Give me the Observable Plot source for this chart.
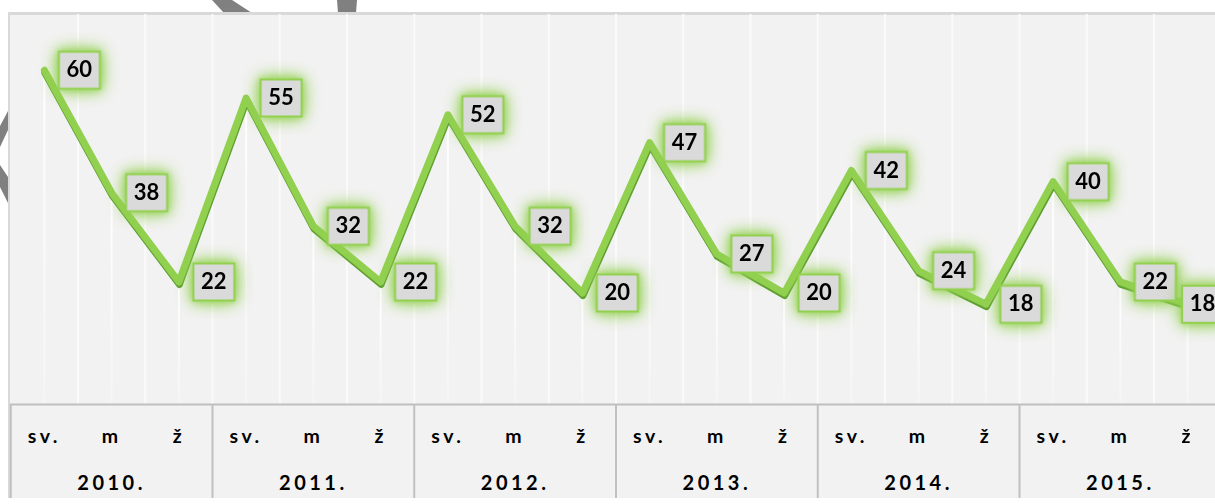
<!DOCTYPE html>
<html>
<head>
<meta charset="utf-8">
<script src="https://cdn.jsdelivr.net/npm/d3@7"></script>
<script src="https://cdn.jsdelivr.net/npm/@observablehq/plot@0.6"></script>
<style>
  html, body { margin: 0; padding: 0; background: #ffffff; overflow: hidden; }
  #wrap { position: relative; width: 1215px; height: 504px; overflow: hidden; }
  #deco { position: absolute; left: 0; top: 0; }
  #panel { position: absolute; left: 8px; top: 12px; width: 1215px; height: 486px;
           background: #f2f2f2; border-top: 3px solid #d9d9d9; border-left: 2px solid #d9d9d9; box-sizing: border-box; }
  #chart { position: absolute; left: 0; top: 0; }
  g[aria-label="x-axis tick label"] text { letter-spacing: 3.5px; }
</style>
</head>
<body>
<div id="wrap">
  <svg id="deco" width="1215" height="504">
    <polygon points="212,0 232,0 252,13 224,13" fill="#808080"/>
    <polygon points="337,0 357,0 356,13 338,13" fill="#808080"/>
    <polygon points="8,111 8,130 0,147 0,126" fill="#808080"/>
    <polygon points="0,165 8,177 8,203 0,187" fill="#808080"/>
  </svg>
  <div id="panel"></div>
  <div id="chart"></div>
</div>
<script>
const values = [60, 38, 22, 55, 32, 22, 52, 32, 20, 47, 27, 20, 42, 24, 18, 40, 22, 18];
const subs = ["sv.", "m", "ž"];
const years = ["2010.", "2011.", "2012.", "2013.", "2014.", "2015."];

const data = values.map((v, i) => ({i, v, sub: subs[i % 3], year: years[Math.floor(i / 3)]}));
const gridBounds = data.slice(0, -1).map(d => d.i + 0.5);
const yearBounds = years.map((_, k) => 3 * k - 0.5).concat([3 * years.length - 0.5]);
const yearCenters = years.map((_, k) => 3 * k + 1);

const boxSymbol = {draw(ctx) { ctx.rect(-20.5, -18.5, 41, 37); }};
const FONT = "Lato, 'Open Sans', sans-serif";
const last = data.length - 1;

const chart = Plot.plot({
  width: 1215,
  height: 504,
  marginTop: 14,
  marginBottom: 100,
  marginLeft: 10.25,
  marginRight: -5.75,
  x: {domain: [-0.5, 17.5], range: [10.25, 1220.75], label: null},
  y: {domain: [0, 70], range: [404, 14], axis: null},
  style: {background: "transparent", overflow: "visible", fontFamily: FONT},
  marks: [
    Plot.ruleX(gridBounds, {stroke: "#fafafa", strokeWidth: 2}),
    Plot.ruleX(data, {x: "i", y1: 0, y2: "v", stroke: "white", strokeWidth: 2, ariaDescription: "drop"}),
    Plot.ruleY([0], {stroke: "#bfbfbf", strokeWidth: 2}),
    Plot.line(data, {x: "i", y: "v", stroke: "#5e9f31", strokeWidth: 7, dy: 2.5, dx: 0.5,
      strokeLinecap: "round", strokeLinejoin: "round"}),
    Plot.line(data, {x: "i", y: "v", stroke: "#92d050", strokeWidth: 7,
      strokeLinecap: "round", strokeLinejoin: "round"}),
    Plot.dot(data.filter(d => d.i < last), {x: "i", y: "v", r: 10, symbol: boxSymbol, dx: 35,
      fill: "#dadada", stroke: "#92d050", strokeWidth: 2, ariaDescription: "boxes"}),
    Plot.dot(data.filter(d => d.i === last), {x: "i", y: "v", r: 10, symbol: boxSymbol, dx: 15,
      fill: "#dadada", stroke: "#92d050", strokeWidth: 2, ariaDescription: "boxes"}),
    Plot.text(data.filter(d => d.i < last), {x: "i", y: "v", text: d => String(d.v), dx: 35,
      fontSize: 22, fontWeight: "bold", fontFamily: FONT, fill: "black"}),
    Plot.text(data.filter(d => d.i === last), {x: "i", y: "v", text: d => String(d.v), dx: 15,
      fontSize: 22, fontWeight: "bold", fontFamily: FONT, fill: "black"}),
    Plot.axisX({ticks: yearBounds, tickSize: 94, tickFormat: () => "", stroke: "#c0c0c0", strokeWidth: 2, label: null}),
    Plot.axisX({ticks: data.map(d => d.i), tickFormat: t => subs[Math.round(t) % 3], tickSize: 0, tickPadding: 25,
      fontSize: 19.5, fontWeight: "bold", fontFamily: FONT, fill: "black", label: null}),
    Plot.axisX({ticks: yearCenters, tickFormat: t => years[Math.round((t - 1) / 3)], tickSize: 0, tickPadding: 71,
      fontSize: 20, fontWeight: "bold", fontFamily: FONT, fill: "black", label: null})
  ]
});

document.getElementById("chart").appendChild(chart);

const svg = d3.select(chart);
svg.selectAll('g[aria-description="boxes"]').style("filter", "drop-shadow(0 0 8px rgba(146,208,80,0.9)) drop-shadow(0 0 3px rgba(146,208,80,0.8))");
svg.selectAll('g[aria-label="x-axis tick label"]').style("letter-spacing", "3.5px");
const defs = svg.append("defs");
svg.selectAll('g[aria-description="drop"] line').each(function(_, k) {
  const l = d3.select(this);
  const a = +l.attr("y1"), b = +l.attr("y2");
  const id = "dropGrad" + k;
  const g = defs.append("linearGradient").attr("id", id).attr("gradientUnits", "userSpaceOnUse")
    .attr("x1", 0).attr("x2", 0).attr("y1", Math.min(a, b)).attr("y2", Math.max(a, b));
  g.append("stop").attr("offset", 0).attr("stop-color", "white").attr("stop-opacity", 1);
  g.append("stop").attr("offset", 1).attr("stop-color", "white").attr("stop-opacity", 0.25);
  l.attr("stroke", `url(#${id})`);
});
</script>
</body>
</html>
